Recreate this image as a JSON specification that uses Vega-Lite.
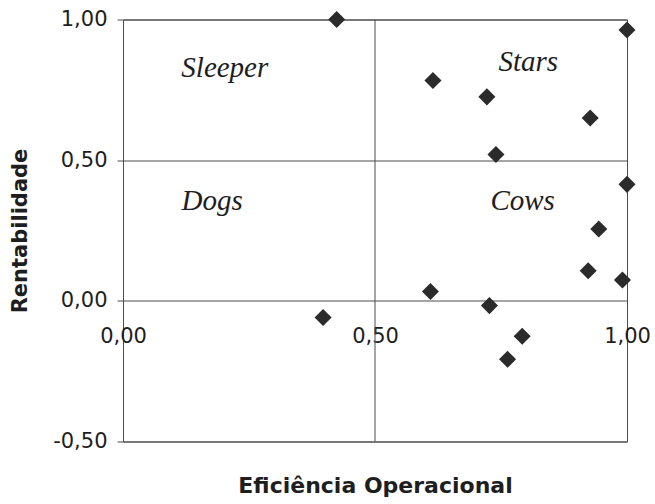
{
  "$schema": "https://vega.github.io/schema/vega-lite/v6.json",
  "width": 504,
  "height": 422,
  "autosize": "none",
  "padding": {"left": 123, "top": 19.5, "right": 28, "bottom": 62.5},
  "background": "white",
  "config": {
    "view": {"stroke": "#4d4d4d", "strokeWidth": 1},
    "axis": {
      "labelFont": "DejaVu Sans",
      "labelFontSize": 21,
      "labelColor": "#1e1e1e",
      "titleFont": "DejaVu Sans",
      "titleFontSize": 21,
      "titleFontWeight": "bold",
      "titleColor": "#1e1e1e"
    }
  },
  "layer": [
    {
      "data": {
        "values": [
          {"eficiencia": 0.424, "rentabilidade": 1.0},
          {"eficiencia": 1.0, "rentabilidade": 0.963},
          {"eficiencia": 0.615, "rentabilidade": 0.783},
          {"eficiencia": 0.722, "rentabilidade": 0.725},
          {"eficiencia": 0.927, "rentabilidade": 0.65},
          {"eficiencia": 0.74, "rentabilidade": 0.52},
          {"eficiencia": 1.0, "rentabilidade": 0.414},
          {"eficiencia": 0.944, "rentabilidade": 0.255},
          {"eficiencia": 0.923, "rentabilidade": 0.107},
          {"eficiencia": 0.991, "rentabilidade": 0.074},
          {"eficiencia": 0.61, "rentabilidade": 0.033},
          {"eficiencia": 0.727, "rentabilidade": -0.017},
          {"eficiencia": 0.792, "rentabilidade": -0.126},
          {"eficiencia": 0.763, "rentabilidade": -0.208},
          {"eficiencia": 0.397, "rentabilidade": -0.059}
        ]
      },
      "mark": {"type": "point", "shape": "diamond", "filled": true, "size": 290, "color": "#2b2b2b", "opacity": 1},
      "encoding": {
        "x": {
          "field": "eficiencia",
          "type": "quantitative",
          "scale": {"domain": [0, 1], "nice": false, "zero": false},
          "axis": {
            "title": "Eficiência Operacional",
            "titleFontSize": 22,
            "values": [0, 0.5, 1],
            "labelExpr": "(datum.value < 0 ? '-' : '') + replace(format(abs(datum.value), '.2f'), '.', ',')",
            "offset": -140.67,
            "grid": false,
            "domain": false,
            "ticks": false,
            "labelFlush": false,
            "labelPadding": 25,
            "titlePadding": 129
          }
        },
        "y": {
          "field": "rentabilidade",
          "type": "quantitative",
          "scale": {"domain": [-0.5, 1], "nice": false, "zero": false},
          "axis": {
            "title": "Rentabilidade",
            "values": [-0.5, 0, 0.5, 1],
            "labelExpr": "(datum.value < 0 ? '-' : '') + replace(format(abs(datum.value), '.2f'), '.', ',')",
            "grid": true,
            "gridColor": "#4d4d4d",
            "gridOpacity": 1,
            "domain": false,
            "ticks": true,
            "tickColor": "#4d4d4d",
            "tickSize": 6,
            "labelPadding": 10,
            "titlePadding": 22
          }
        }
      }
    },
    {
      "data": {"values": [{}]},
      "mark": {"type": "rule", "color": "#4d4d4d", "strokeWidth": 1},
      "encoding": {"x": {"datum": 0.5, "type": "quantitative"}}
    },
    {
      "data": {
        "values": [
          {"quadrante": "Sleeper", "eficiencia": 0.202, "rentabilidade": 0.797},
          {"quadrante": "Stars", "eficiencia": 0.804, "rentabilidade": 0.816},
          {"quadrante": "Dogs", "eficiencia": 0.177, "rentabilidade": 0.324},
          {"quadrante": "Cows", "eficiencia": 0.793, "rentabilidade": 0.324}
        ]
      },
      "mark": {"type": "text", "font": "Liberation Serif", "fontStyle": "italic", "fontSize": 29, "color": "#1e1e1e", "align": "center", "baseline": "alphabetic"},
      "encoding": {
        "x": {"field": "eficiencia", "type": "quantitative"},
        "y": {"field": "rentabilidade", "type": "quantitative"},
        "text": {"field": "quadrante"}
      }
    }
  ]
}
